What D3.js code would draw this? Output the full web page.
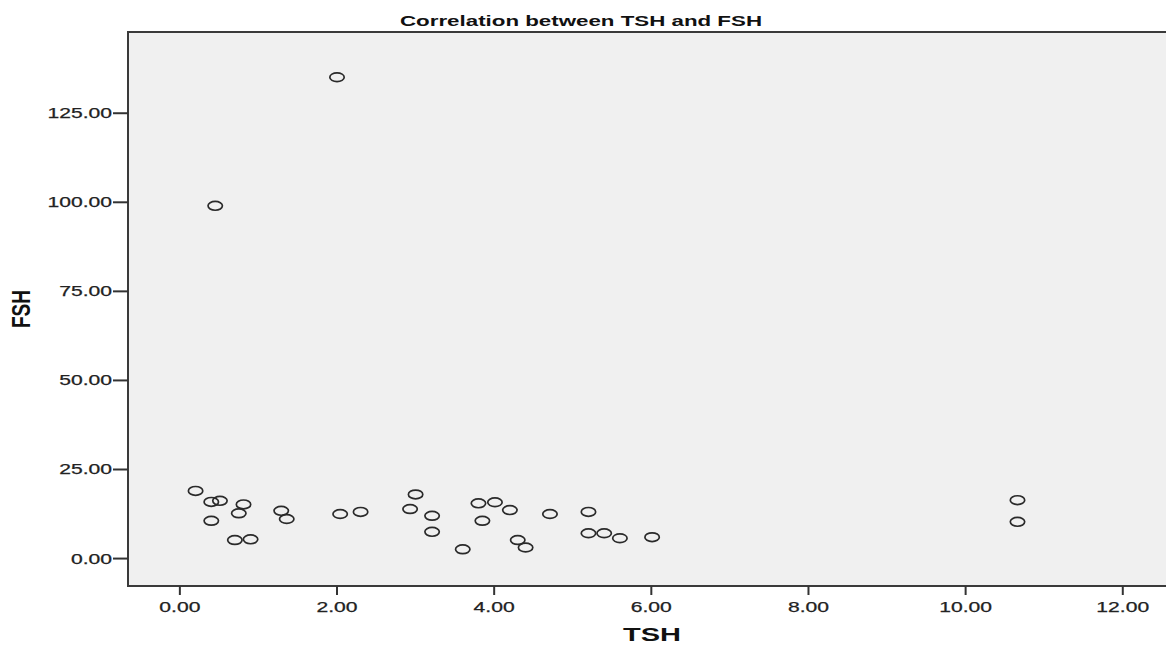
<!DOCTYPE html>
<html>
<head>
<meta charset="utf-8">
<script src="https://cdn.jsdelivr.net/npm/d3@7"></script>
<style>
  body { margin: 0; background: #fff; }
  text { font-family: "Liberation Sans", Arial, sans-serif; }
</style>
</head>
<body>
<svg id="chart" width="1166" height="645"></svg>
<script>
// TSH vs FSH, one entry per subject
var tsh = [0.20, 0.40, 0.51, 0.40, 0.81, 0.75, 0.70, 0.90, 1.29, 1.36,
           2.04, 2.30, 2.93, 3.00, 3.21, 3.21, 3.60, 3.80, 3.85, 4.01,
           4.20, 4.30, 4.40, 4.71, 5.20, 5.20, 5.40, 5.60, 6.01, 10.66,
           10.66, 2.00, 0.45];
var fsh = [19.0, 15.9, 16.2, 10.6, 15.2, 12.7, 5.2, 5.4, 13.4, 11.1,
           12.5, 13.1, 13.9, 18.0, 12.0, 7.5, 2.6, 15.5, 10.6, 15.8,
           13.6, 5.2, 3.1, 12.5, 13.1, 7.1, 7.1, 5.7, 6.0, 16.4,
           10.3, 135.1, 99.0];

var xTicks = [0, 2, 4, 6, 8, 10, 12];
var yTicks = [0, 25, 50, 75, 100, 125];

var title = 'Correlation between TSH and FSH';
var xTitle = 'TSH';
var yTitle = 'FSH';

var svg = d3.select('#chart');

var x = d3.scaleLinear().domain([-0.66, 12.55]).range([128, 1166]);
var y = d3.scaleLinear().domain([-7.7, 147.8]).range([586, 32]);

// the original is stretched sideways, so labels get wider than their font
function labelWidth(s) {
    var digits = s.replace('.', '').length;
    return digits * 11.7 + 6;
}

svg.append('rect')
    .attr('x', x(-0.66))
    .attr('y', y(147.8))
    .attr('width', 1166 - x(-0.66) + 5)
    .attr('height', y(-7.7) - y(147.8))
    .attr('fill', '#f0f0f0')
    .attr('stroke', '#3a3a3a')
    .attr('stroke-width', 2);

// y ticks
svg.selectAll('.ytick').data(yTicks).enter().append('line')
    .attr('x1', 113).attr('x2', 128)
    .attr('y1', function(d) { return y(d); })
    .attr('y2', function(d) { return y(d); })
    .attr('stroke', '#333').attr('stroke-width', 2);

svg.selectAll('.ylab').data(yTicks).enter().append('text')
    .attr('x', 112)
    .attr('y', function(d) { return y(d) + 5; })
    .attr('text-anchor', 'end')
    .attr('font-size', 14.5)
    .attr('fill', '#222')
    .attr('stroke', '#222').attr('stroke-width', 0.25)
    .attr('textLength', function(d) { return labelWidth(d.toFixed(2)); })
    .attr('lengthAdjust', 'spacingAndGlyphs')
    .text(function(d) { return d.toFixed(2); });

// x ticks
svg.selectAll('.xtick').data(xTicks).enter().append('line')
    .attr('x1', function(d) { return x(d); })
    .attr('x2', function(d) { return x(d); })
    .attr('y1', 586).attr('y2', 595)
    .attr('stroke', '#333').attr('stroke-width', 2);

svg.selectAll('.xlab').data(xTicks).enter().append('text')
    .attr('x', function(d) { return x(d); })
    .attr('y', 612)
    .attr('text-anchor', 'middle')
    .attr('font-size', 14.5)
    .attr('fill', '#222')
    .attr('stroke', '#222').attr('stroke-width', 0.25)
    .attr('textLength', function(d) { return labelWidth(d.toFixed(2)); })
    .attr('lengthAdjust', 'spacingAndGlyphs')
    .text(function(d) { return d.toFixed(2); });

// points, drawn as flattened rings like the source
svg.selectAll('.pt').data(tsh).enter().append('ellipse')
    .attr('cx', function(d) { return x(d); })
    .attr('cy', function(d, i) { return y(fsh[i]); })
    .attr('rx', 7.2)
    .attr('ry', 4.4)
    .attr('fill', 'none')
    .attr('stroke', '#2a2a2a')
    .attr('stroke-width', 1.7);

svg.append('text')
    .attr('x', 581).attr('y', 26)
    .attr('text-anchor', 'middle')
    .attr('font-size', 14.5)
    .attr('font-weight', 'bold')
    .attr('fill', '#111')
    .attr('textLength', 362)
    .attr('lengthAdjust', 'spacingAndGlyphs')
    .text(title);

svg.append('text')
    .attr('x', 652).attr('y', 641)
    .attr('text-anchor', 'middle')
    .attr('font-size', 19)
    .attr('font-weight', 'bold')
    .attr('fill', '#111')
    .attr('textLength', 58)
    .attr('lengthAdjust', 'spacingAndGlyphs')
    .text(xTitle);

svg.append('text')
    .attr('transform', 'translate(30,309) scale(1.6,1) rotate(-90)')
    .attr('text-anchor', 'middle')
    .attr('font-size', 16)
    .attr('font-weight', 'bold')
    .attr('fill', '#111')
    .attr('textLength', 38)
    .attr('lengthAdjust', 'spacingAndGlyphs')
    .text(yTitle);
</script>
</body>
</html>
